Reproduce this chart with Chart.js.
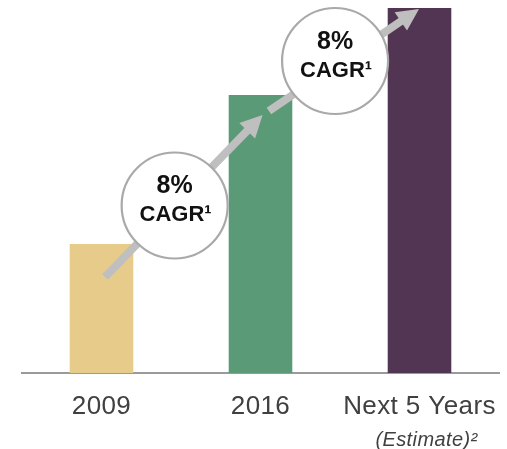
<!DOCTYPE html>
<html>
<head>
<meta charset="utf-8">
<script src="https://cdn.jsdelivr.net/npm/chart.js@4/dist/chart.umd.min.js"></script>
<style>
  html, body { margin: 0; padding: 0; background: #ffffff; }
  #wrap { width: 507px; height: 449px; }
</style>
</head>
<body>
<div id="wrap"><canvas id="c" width="507" height="449"></canvas></div>
<script>
// ---- data (relative index units) ----
const categories = ['2009', '2016', 'Next 5 Years'];
const subLabels = ['', '', '(Estimate)²'];
const values = [129, 278, 365];
const barColors = ['#E6CB8A', '#5B9A77', '#523552'];
const cagrLabels = ['8%', '8%'];
const cagrUnit = 'CAGR¹';
const yMax = 373;

// annotation anchors in (category index, value) units
const arrowFrom = [[0.022, 96], [1.053, 262]];
const arrowTo = [[1.013, 258], [1.997, 364]];
const badgeAt = [[0.46, 167.5], [1.469, 312]];

const FONT = '"Liberation Sans", Arial, sans-serif';

function catX(xs, v) {
  const p0 = xs.getPixelForValue(0), p1 = xs.getPixelForValue(1);
  return p0 + v * (p1 - p0);
}

const annotations = {
  id: 'annotations',
  beforeDraw(chart) {
    chart.ctx.letterSpacing = '0.4px';
  },
  afterDatasetsDraw(chart) {
    const ctx = chart.ctx;
    const xs = chart.scales.x, ys = chart.scales.y;
    ctx.save();
    ctx.letterSpacing = '0px';
    // arrows
    for (let i = 0; i < arrowFrom.length; i++) {
      const x1 = catX(xs, arrowFrom[i][0]), y1 = ys.getPixelForValue(arrowFrom[i][1]);
      const x2 = catX(xs, arrowTo[i][0]), y2 = ys.getPixelForValue(arrowTo[i][1]);
      const ang = Math.atan2(y2 - y1, x2 - x1);
      const headLen = 22, headHalf = 11;
      const bx = x2 - headLen * Math.cos(ang), by = y2 - headLen * Math.sin(ang);
      ctx.strokeStyle = '#BFBFBF';
      ctx.fillStyle = '#BFBFBF';
      ctx.lineWidth = 8;
      ctx.lineCap = 'butt';
      ctx.beginPath();
      ctx.moveTo(x1, y1);
      ctx.lineTo(bx + Math.cos(ang), by + Math.sin(ang));
      ctx.stroke();
      ctx.beginPath();
      ctx.moveTo(x2, y2);
      ctx.lineTo(bx + headHalf * Math.sin(ang), by - headHalf * Math.cos(ang));
      ctx.lineTo(bx - headHalf * Math.sin(ang), by + headHalf * Math.cos(ang));
      ctx.closePath();
      ctx.fill();
    }
    // badges
    for (let i = 0; i < badgeAt.length; i++) {
      const cx = catX(xs, badgeAt[i][0]), cy = ys.getPixelForValue(badgeAt[i][1]);
      ctx.beginPath();
      ctx.arc(cx, cy, 53, 0, Math.PI * 2);
      ctx.fillStyle = '#FFFFFF';
      ctx.fill();
      ctx.lineWidth = 2.2;
      ctx.strokeStyle = '#A9A9A9';
      ctx.stroke();
      ctx.fillStyle = '#111111';
      ctx.textAlign = 'center';
      ctx.textBaseline = 'alphabetic';
      ctx.font = 'bold 25px ' + FONT;
      ctx.fillText(cagrLabels[i], cx, cy - 12.5);
      ctx.font = 'bold 22px ' + FONT;
      ctx.fillText(cagrUnit, cx + 1, cy + 15.5);
    }
    ctx.restore();
  },
  afterDraw(chart) {
    const ctx = chart.ctx;
    const xs = chart.scales.x;
    ctx.save();
    ctx.letterSpacing = '0.4px';
    ctx.fillStyle = '#404040';
    ctx.font = 'italic 20px ' + FONT;
    ctx.textAlign = 'center';
    ctx.textBaseline = 'alphabetic';
    subLabels.forEach((s, i) => {
      if (s) ctx.fillText(s, xs.getPixelForValue(i) + 7, 445.5);
    });
    ctx.restore();
  }
};

new Chart(document.getElementById('c'), {
  type: 'bar',
  data: {
    labels: categories,
    datasets: [{
      data: values,
      backgroundColor: barColors,
      borderWidth: 0,
      categoryPercentage: 1,
      barPercentage: 0.4
    }]
  },
  options: {
    responsive: false,
    animation: false,
    devicePixelRatio: 1,
    layout: { autoPadding: false, padding: { left: 22, right: 8, top: 0, bottom: 0 } },
    plugins: { legend: { display: false }, tooltip: { enabled: false } },
    scales: {
      y: { display: false, min: 0, max: yMax },
      x: {
        grid: { display: false },
        border: { display: true, color: '#9A9A9A', width: 2 },
        ticks: {
          autoSkip: false, maxRotation: 0, minRotation: 0,
          padding: 10,
          color: '#404040',
          font: { family: FONT, size: 26 }
        },
        afterFit(scale) { scale.height = 76; }
      }
    }
  },
  plugins: [annotations]
});
</script>
</body>
</html>
